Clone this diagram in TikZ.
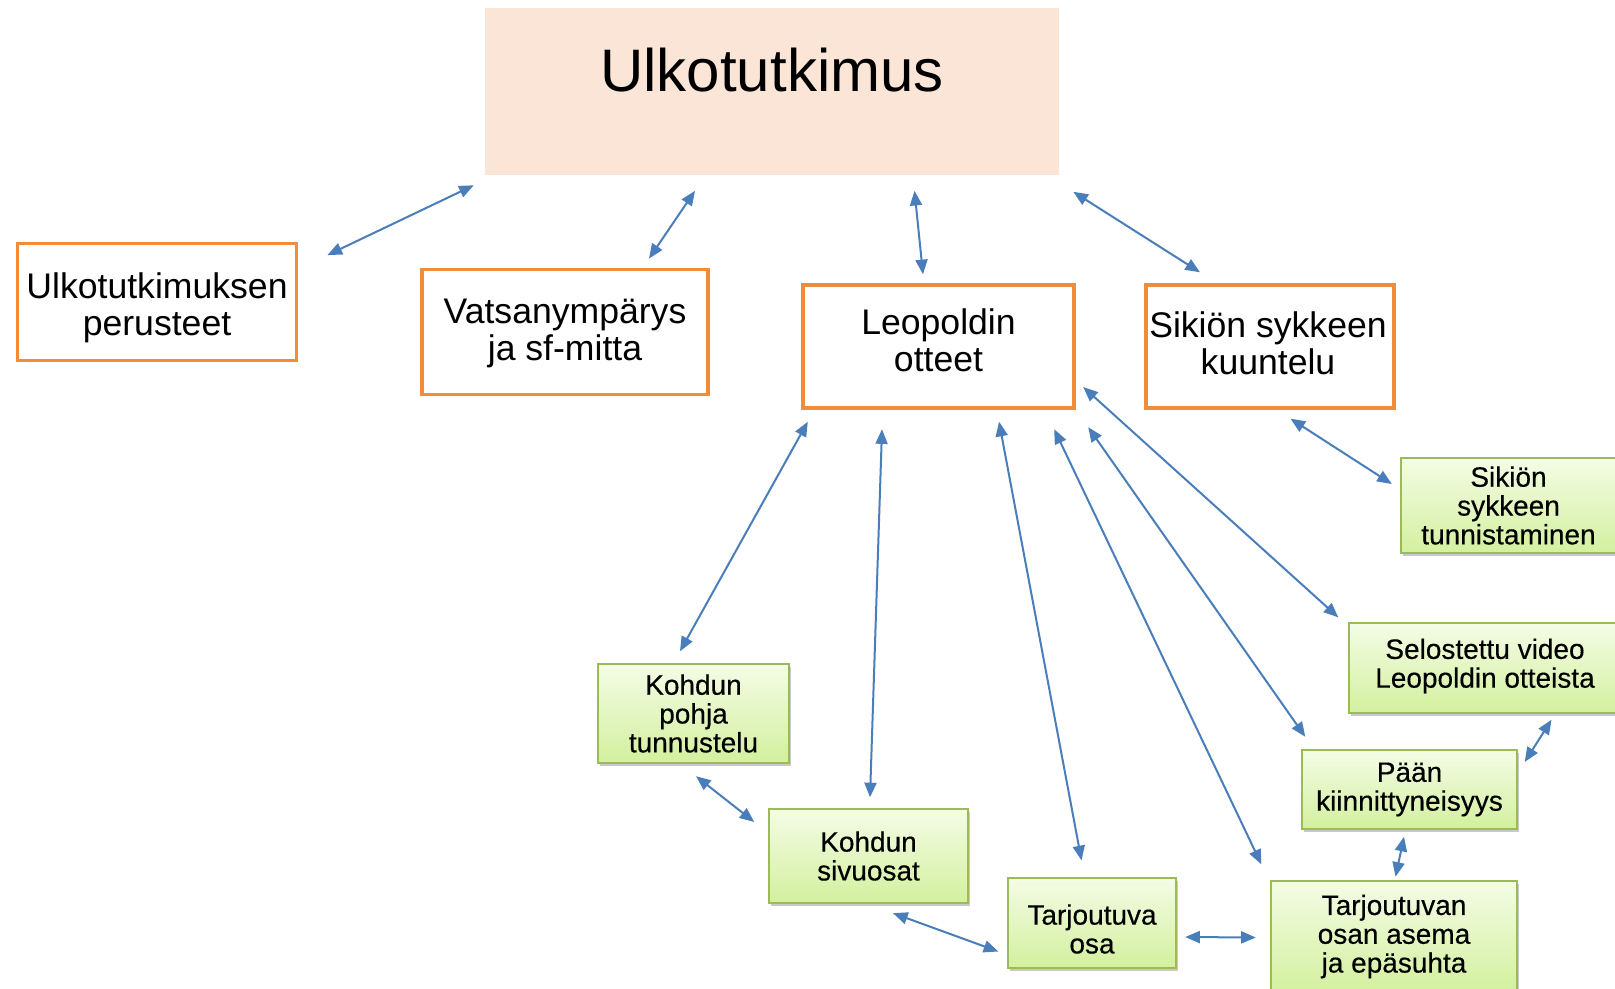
\documentclass[tikz,border=0pt]{standalone}
\usepackage{fontspec}
\setmainfont{Liberation Sans}
\newfontfamily\greenfont[FakeBold=0.35]{Liberation Sans}
\usetikzlibrary{arrows.meta,calc,shadows}
\definecolor{arrowblue}{HTML}{4A7EBB}
\definecolor{orangeb}{HTML}{F28C38}
\definecolor{peach}{HTML}{FBE5D6}
\definecolor{greenb}{HTML}{9BBB59}
\definecolor{greentop}{HTML}{F4FCE6}
\definecolor{greenbot}{HTML}{D3F09E}
\tikzset{
 obox/.style={draw=orangeb, line width=2.5pt, fill=white, inner sep=0pt},
 otext/.style={align=center, inner sep=0pt, font=\fontsize{26.7}{27.8}\selectfont},
 gbox/.style={draw=greenb, line width=1pt, top color=greentop, bottom color=greenbot, inner sep=0pt, align=center, font=\greenfont\fontsize{21}{21.6}\selectfont, drop shadow={shadow xshift=1.5pt, shadow yshift=-2pt, opacity=0.35, fill=black!60}},
 gtext/.style={align=center, inner sep=0pt, font=\greenfont\fontsize{21}{21.6}\selectfont},
 link/.style={draw=arrowblue, line width=1.5pt, {Triangle[length=11pt,width=9pt]}-{Triangle[length=11pt,width=9pt]}},
}
\begin{document}
\begin{tikzpicture}[x=0.75pt,y=-0.75pt]
\useasboundingbox[fill=white] (0,0) rectangle (1615,988);
% title
\node[fill=peach, inner sep=0pt, minimum width=430.5pt, minimum height=125.3pt] (title) at (772,91.5) {};
\node[font=\fontsize{45}{50}\selectfont] (titletext) at (772,70) {Ulkotutkimus};
% orange boxes
\node[obox, minimum width=208.9pt, minimum height=88.1pt] (A) at (157,302) {};
\node[otext] (Atext) at (157,308) {Ulkotutkimuksen\\perusteet};
\node[obox, minimum width=214.5pt, minimum height=93.4pt] (B) at (565,332) {};
\node[otext] (Btext) at (565,333) {Vatsanympärys\\ja sf-mitta};
\node[obox, minimum width=203.3pt, minimum height=92.3pt] (C) at (938.5,346.5) {};
\node[otext] (Ctext) at (938.5,340) {Leopoldin\\otteet};
\node[obox, minimum width=186pt, minimum height=92.3pt] (D) at (1270,346.5) {};
\node[otext] (Dtext) at (1268,343) {Sikiön sykkeen\\kuuntelu};
% green boxes
\node[gbox, minimum width=161.3pt, minimum height=71.3pt] (E) at (1508.5,505.5) {Sikiön\\sykkeen\\tunnistaminen};
\node[gbox, minimum width=200.3pt, minimum height=67.5pt] (F) at (1482.5,668) {};
\node[gtext] (Ftext) at (1485,666) {Selostettu video\\Leopoldin otteista};
\node[gbox, minimum width=161.3pt, minimum height=59.3pt] (G) at (1409.5,789.5) {Pään\\kiinnittyneisyys};
\node[gbox, minimum width=184.5pt, minimum height=83.3pt] (H) at (1394,936.5) {Tarjoutuvan\\osan asema\\ja epäsuhta};
\node[gbox, minimum width=126pt, minimum height=67.5pt] (I) at (1092,923) {};
\node[gtext] (Itext) at (1092,929) {Tarjoutuva\\osa};
\node[gbox, minimum width=149.3pt, minimum height=70.5pt] (J) at (868.5,856) {Kohdun\\sivuosat};
\node[gbox, minimum width=143.3pt, minimum height=74.3pt] (K) at (693.5,713.5) {Kohdun\\pohja\\tunnustelu};
% connectors
\draw[link] ($(title.south west)+(-11,10)$) -- ($(A.north east)+(29.5,13.5)$);
\draw[link] ($(title.south)+(-77,15.5)$) -- ($(B.north)+(84,-9.5)$);
\draw[link] ($(title.south)+(142.5,15.5)$) -- ($(C.north)+(-15.5,-9)$);
\draw[link] ($(title.south east)+(14,16.5)$) -- ($(D.north)+(-70,-11)$);
\draw[link] ($(C.south west)+(6.5,12)$) -- ($(K.north)+(-13.5,-12)$);
\draw[link] ($(C.south)+(-56.5,19.5)$) -- ($(J.north)+(1.5,-11)$);
\draw[link] ($(C.south)+(60.5,12)$) -- ($(I.north)+(-10.5,-17)$);
\draw[link] ($(C.south east)+(-21.5,19.5)$) -- ($(H.north west)+(-9,-16)$);
\draw[link] ($(C.south east)+(12.5,17.5)$) -- ($(G.north west)+(4,-12.5)$);
\draw[link] ($(C.east)+(7.5,40.5)$) -- ($(F.north west)+(-10,-5)$);
\draw[link] ($(D.south)+(20.5,9)$) -- ($(E.west)+(-8.5,-21.5)$);
\draw[link] ($(K.south)+(2.5,12.5)$) -- ($(J.west)+(-14,-34)$);
\draw[link] ($(J.south)+(24.5,9.5)$) -- ($(I.west)+(-9,28.5)$);
\draw[link] ($(I.east)+(8.5,14)$) -- ($(H.west)+(-14.5,1)$);
\draw[link] ($(G.south)+(-5.5,7)$) -- ($(H.north)+(1.5,-3.5)$);
\draw[link] ($(F.south)+(69,6)$) -- ($(G.east)+(7,-27.5)$);
\end{tikzpicture}
\end{document}
